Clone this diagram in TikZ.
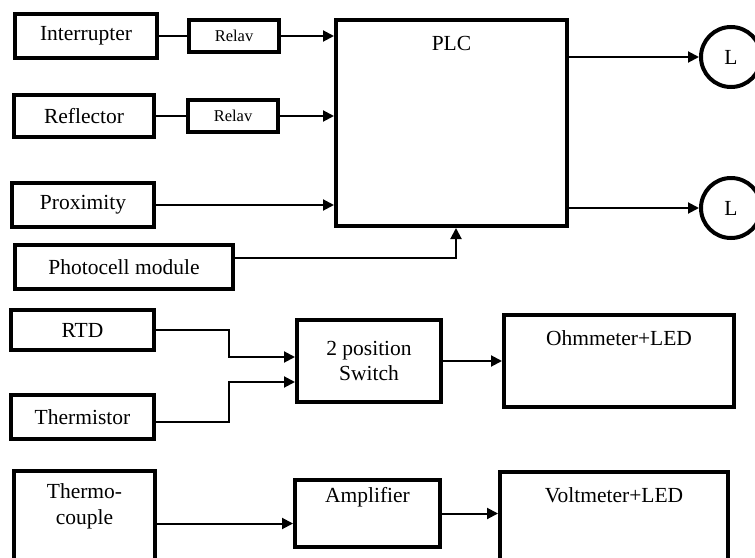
\documentclass[tikz,border=0pt]{standalone}
\usepackage{fontspec}
\setmainfont{Liberation Serif}
\usetikzlibrary{arrows.meta}

\begin{document}
\begin{tikzpicture}[x=1pt,y=-1pt,
		blk/.style={draw,line width=4pt,inner sep=0pt,align=center,font=\fontsize{21.5}{25}\selectfont},
		relay/.style={blk,minimum width=90pt,minimum height=32pt,font=\fontsize{16.5}{19}\selectfont},
		lamp/.style={circle,draw,line width=4pt,minimum size=60pt,inner sep=0pt,font=\fontsize{21.5}{25}\selectfont},
		txt/.style={inner sep=0pt,align=center,font=\fontsize{21.5}{26}\selectfont},
		conn/.style={line width=2pt},
		arr/.style={conn,-{Triangle[length=11pt,width=11pt]}}]

			\useasboundingbox (0,0) rectangle (755,557);
			\clip (0,0) rectangle (755,557);

			% PLC part
			\node[blk,minimum width=142pt,minimum height=44pt] (intr) at (86,36) {Interrupter};
			\node[relay] (relay1) at (234,36) {Relav};
			\node[blk,minimum width=140pt,minimum height=42pt] (refl) at (84,116) {Reflector};
			\node[relay] (relay2) at (233,116) {Relav};
			\node[blk,minimum width=142pt,minimum height=44pt] (prox) at (83,205) {Proximity};
			\node[blk,minimum width=218pt,minimum height=44pt] (photo) at (124,267) {Photocell module};
			\node[blk,minimum width=231pt,minimum height=206pt] (plc) at (451.5,123) {};
			\node[txt] (plclbl) at ([yshift=-25pt]plc.north) {PLC};
			\node[lamp] (lamp1) at (731,57) {L};
			\node[lamp] (lamp2) at (731,208) {L};

			\draw[conn] (intr.east) -- (relay1.west);
			\draw[arr] (relay1.east) -- (plc.west |- relay1.east);
			\draw[conn] (refl.east |- relay2.west) -- (relay2.west);
			\draw[arr] (relay2.east) -- (plc.west |- relay2.east);
			\draw[arr] (prox.east) -- (plc.west |- prox.east);
			\draw[arr] ([yshift=9pt]photo.east) -| ([xshift=4.5pt]plc.south);
			\draw[arr] (plc.east |- lamp1.west) -- (lamp1.west);
			\draw[arr] (plc.east |- lamp2.west) -- (lamp2.west);

			% resistance sensors
			\node[blk,minimum width=143pt,minimum height=40pt] (rtd) at (82.5,330) {RTD};
			\node[blk,minimum width=143pt,minimum height=44pt] (therm) at (82.5,417) {Thermistor};
			\node[blk,minimum width=144pt,minimum height=82pt] (sw) at (369,361) {2 position\\Switch};
			\node[blk,minimum width=230pt,minimum height=92pt] (ohm) at (619,361) {};
			\node[txt] (ohmlbl) at ([yshift=-25pt]ohm.north) {Ohmmeter+LED};

			\draw[arr] (rtd.east) -- ++(73,0) |- ([yshift=4pt]sw.west);
			\draw[arr] ([yshift=-5pt]therm.east) -- ++(73,0) |- ([yshift=-21pt]sw.west);
			\draw[arr] (sw.east) -- (ohm.west);

			% thermocouple
			\node[blk,minimum width=141pt,minimum height=111pt] (tc) at (84.5,526.5) {};
			\node[txt] (tclbl) at ([yshift=-37.5pt]tc.north) {Thermo-\\couple};
			\node[blk,minimum width=145pt,minimum height=67pt] (amp) at (367.5,513.5) {};
			\node[txt] (amplbl) at ([yshift=-19pt]amp.north) {Amplifier};
			\node[blk,minimum width=228pt,minimum height=110pt] (volt) at (614,527) {};
			\node[txt] (voltlbl) at ([yshift=-25pt]volt.north) {Voltmeter+LED};

			\coordinate (tcout) at ([yshift=3pt]tc.east);
			\draw[arr] (tcout) -- (tcout -| amp.west);
			\draw[arr] (amp.east) -- (amp.east -| volt.west);
		\end{tikzpicture}
\end{document}
